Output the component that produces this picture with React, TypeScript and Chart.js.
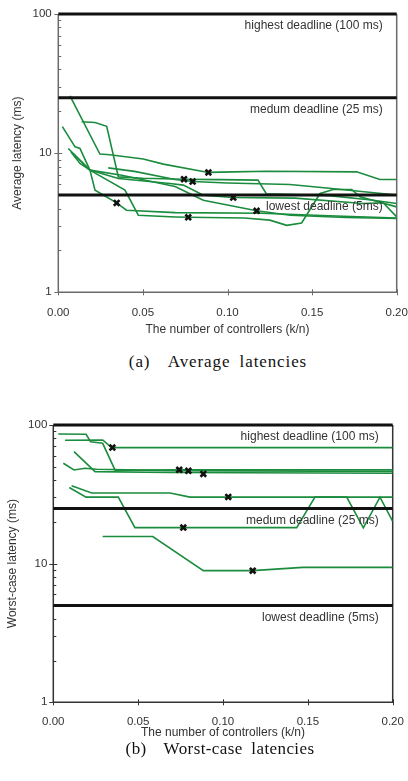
import React, { useEffect, useRef } from 'react';
import { Chart, registerables } from 'chart.js';

Chart.register(...registerables);

type Pt = [number, number];

// ---------- shared axis data ----------
const X_TICKS = [0, 0.05, 0.1, 0.15, 0.2];
const X_TICK_LABELS = ['0.00', '0.05', '0.10', '0.15', '0.20'];
const Y_TICKS = [1, 10, 100];
const Y_TICK_LABELS = ['1', '10', '100'];
const X_TITLE = 'The number of controllers (k/n)';
const DEADLINES = [100, 25, 5];
const DEADLINE_LABELS = ['highest deadline (100 ms)', 'medum deadline (25 ms)', 'lowest deadline (5ms)'];

// ---------- (a) average latencies: [k/n, ms] ----------
const AVG_RUN_1: Pt[] = [[0.0069, 25.8], [0.0246, 9.85], [0.0305, 9.74], [0.0502, 9.07], [0.0621, 8.34], [0.0887, 7.27], [0.1034, 7.34], [0.1232, 7.42], [0.1763, 7.34], [0.1901, 6.47], [0.2, 6.47]];
const AVG_RUN_2: Pt[] = [[0.0138, 16.8], [0.0217, 16.6], [0.0286, 15.6], [0.0355, 6.75], [0.05, 6.6], [0.0743, 6.5], [0.095, 6.45], [0.118, 6.4], [0.123, 5.1], [0.16, 4.95], [0.185, 4.6], [0.2, 4.35]];
const AVG_RUN_3: Pt[] = [[0.0295, 7.84], [0.045, 7.4], [0.069, 6.47], [0.0794, 6.25], [0.1, 6.1], [0.137, 5.95], [0.16, 5.6], [0.2, 5.0]];
const AVG_RUN_4: Pt[] = [[0.0024, 15.5], [0.0099, 11.1], [0.0128, 10.8], [0.0187, 7.55], [0.0217, 5.42], [0.0345, 4.39], [0.0403, 3.89], [0.069, 3.74], [0.12, 3.7], [0.16, 3.55], [0.2, 3.42]];
const AVG_RUN_5: Pt[] = [[0.0089, 9.9], [0.0187, 7.55], [0.0394, 5.42], [0.0473, 3.58], [0.069, 3.48], [0.0768, 3.46], [0.11, 3.42], [0.125, 3.3], [0.135, 3.03], [0.1438, 3.15], [0.1547, 5.13], [0.1625, 5.48], [0.1734, 5.48], [0.1783, 4.85], [0.2, 4.11]];
const AVG_RUN_6: Pt[] = [[0.0059, 10.8], [0.0187, 7.55], [0.0375, 6.94], [0.069, 5.75], [0.0857, 4.59], [0.1172, 3.85], [0.137, 3.58], [0.17, 3.45], [0.2, 3.39]];
const AVG_RUN_7: Pt[] = [[0.0075, 10.2], [0.0128, 8.43], [0.0187, 7.55], [0.0355, 6.57], [0.066, 6.05], [0.0739, 5.89], [0.0857, 4.99], [0.1034, 4.8], [0.14, 4.75], [0.18, 4.35], [0.192, 4.4], [0.2, 3.48]];
const AVG_MARKERS: Pt[] = [[0.0345, 4.39], [0.0743, 6.5], [0.0794, 6.25], [0.0887, 7.27], [0.1034, 4.8], [0.1172, 3.85], [0.0768, 3.46]];

// ---------- (b) worst-case latencies: [k/n, ms] ----------
const WORST_RUN_1: Pt[] = [[0.0029, 86.1], [0.0193, 85.7], [0.022, 75.8], [0.0291, 73.8], [0.0364, 47.2], [0.0742, 47.5], [0.2, 47.5]];
const WORST_RUN_2: Pt[] = [[0.0069, 77.6], [0.0291, 78.0], [0.0344, 68.7], [0.2, 68.7]];
const WORST_RUN_3: Pt[] = [[0.0122, 64.3], [0.0246, 46.1], [0.0688, 45.4], [0.2, 44.9]];
const WORST_RUN_4: Pt[] = [[0.0059, 53.0], [0.0122, 47.4], [0.0187, 48.8], [0.0256, 48.0], [0.0688, 46.9], [0.2, 46.2]];
const WORST_RUN_5: Pt[] = [[0.0108, 36.4], [0.0226, 32.3], [0.0688, 32.3], [0.0806, 30.2], [0.2, 30.2]];
const WORST_RUN_6: Pt[] = [[0.0094, 35.4], [0.0193, 30.2], [0.0383, 30.2], [0.0481, 18.2], [0.1434, 18.2], [0.1542, 30.2], [0.1729, 30.2], [0.1827, 18.1], [0.1925, 30.2], [0.2, 20.2]];
const WORST_RUN_7: Pt[] = [[0.0291, 15.7], [0.0586, 15.7], [0.0884, 8.9], [0.1175, 8.9], [0.147, 9.4], [0.2, 9.4]];
const WORST_MARKERS: Pt[] = [[0.0348, 68.7], [0.0742, 47.5], [0.0796, 46.7], [0.0884, 44.4], [0.1031, 30.3], [0.0766, 18.2], [0.1175, 8.9]];

const SANS = '"Liberation Sans", Arial, Helvetica, sans-serif';
const GREEN = '#1b8c3e';

interface PanelSpec {
  runs: Pt[][];
  markers: Pt[];
  yTitle: string;
  top: number;
  height: number;
  padRight: number;
  padTop: number;
  yWidth: number;
  xHeight: number;
  yTickPad: number;
  xTickPad: number;
  yTitlePad: number;
  xTitlePad: number;
  frameColor: string;
}

const decorPlugin = {
  id: 'decor',
  beforeDatasetsDraw(chart: any, _args: any, opts: any) {
    const { ctx, chartArea: a, scales } = chart;
    const y = scales.y;
    const x = scales.x;
    ctx.save();
    ctx.strokeStyle = opts.frameColor;
    ctx.lineWidth = 1.5;
    ctx.beginPath();
    ctx.moveTo(a.left, a.top);
    ctx.lineTo(a.left, a.bottom);
    ctx.lineTo(a.right, a.bottom);
    ctx.lineTo(a.right, a.top);
    ctx.stroke();
    ctx.lineWidth = 1;
    ctx.beginPath();
    for (let d = 1; d <= 100; d *= 10) {
      for (let m = 1; m <= 9; m++) {
        const v = d * m;
        if (v > 100) break;
        const py = Math.round(y.getPixelForValue(v)) + 0.5;
        const major = m === 1;
        ctx.moveTo(a.left - (major ? 4 : 0), py);
        ctx.lineTo(a.left + (major ? 4 : 3), py);
      }
    }
    X_TICKS.forEach((v) => {
      const px = Math.round(x.getPixelForValue(v)) + 0.5;
      ctx.moveTo(px, a.bottom - 3);
      ctx.lineTo(px, a.bottom + 3);
    });
    ctx.stroke();
    ctx.restore();
  },
  afterDatasetsDraw(chart: any) {
    const { ctx, chartArea: a, scales } = chart;
    const y = scales.y;
    ctx.save();
    ctx.font = `12px ${SANS}`;
    ctx.fillStyle = '#333';
    ctx.textAlign = 'right';
    ctx.textBaseline = 'middle';
    DEADLINES.forEach((v, i) => {
      ctx.fillText(DEADLINE_LABELS[i], a.right - 14, y.getPixelForValue(v) + 12);
    });
    ctx.restore();
  },
};

function Panel({ spec }: { spec: PanelSpec }) {
  const ref = useRef<HTMLCanvasElement>(null);
  useEffect(() => {
    const datasets: any[] = [];
    spec.runs.forEach((run) => {
      datasets.push({
        type: 'line',
        data: run.map(([x, y]) => ({ x, y })),
        borderColor: GREEN,
        borderWidth: 1.6,
        pointRadius: 0,
        tension: 0,
        fill: false,
        order: 3,
      });
    });
    DEADLINES.forEach((v) => {
      datasets.push({
        type: 'line',
        data: [{ x: X_TICKS[0], y: v }, { x: X_TICKS[X_TICKS.length - 1], y: v }],
        borderColor: '#111',
        borderWidth: 3,
        pointRadius: 0,
        clip: false,
        order: 2,
      });
    });
    datasets.push({
      type: 'scatter',
      data: spec.markers.map(([x, y]) => ({ x, y })),
      pointStyle: 'crossRot',
      pointRadius: 4,
      pointBorderWidth: 2.6,
      borderColor: '#111',
      backgroundColor: '#111',
      order: 0,
    });

    const chart = new Chart(ref.current as HTMLCanvasElement, {
      type: 'line',
      data: { datasets },
      plugins: [decorPlugin as any],
      options: {
        responsive: false,
        animation: false,
        devicePixelRatio: 1,
        layout: { padding: { left: 0, right: spec.padRight, top: spec.padTop, bottom: 0 } },
        plugins: {
          legend: { display: false },
          tooltip: { enabled: false },
          decor: { frameColor: spec.frameColor },
        } as any,
        scales: {
          x: {
            type: 'linear',
            min: X_TICKS[0],
            max: X_TICKS[X_TICKS.length - 1],
            afterBuildTicks: (s: any) => {
              s.ticks = X_TICKS.map((value) => ({ value }));
            },
            afterFit: (s: any) => {
              s.height = spec.xHeight;
              s.paddingLeft = 0;
              s.paddingRight = 0;
            },
            ticks: {
              callback: (_v: any, i: number) => X_TICK_LABELS[i],
              padding: spec.xTickPad,
              color: '#333',
              font: { family: SANS, size: 11.5 },
              maxRotation: 0,
              autoSkip: false,
            },
            grid: { display: false, drawTicks: false },
            border: { display: false },
            title: {
              display: true,
              text: X_TITLE,
              color: '#333',
              font: { family: SANS, size: 12 },
              padding: { top: 0, bottom: spec.xTitlePad },
            },
          },
          y: {
            type: 'logarithmic',
            min: Y_TICKS[0],
            max: Y_TICKS[Y_TICKS.length - 1],
            afterBuildTicks: (s: any) => {
              s.ticks = Y_TICKS.map((value) => ({ value }));
            },
            afterFit: (s: any) => {
              s.width = spec.yWidth;
              s.paddingTop = 0;
              s.paddingBottom = 0;
            },
            ticks: {
              callback: (_v: any, i: number) => Y_TICK_LABELS[i],
              padding: spec.yTickPad,
              color: '#333',
              font: { family: SANS, size: 11.5 },
              autoSkip: false,
            },
            grid: { display: false, drawTicks: false },
            border: { display: false },
            title: {
              display: true,
              text: spec.yTitle,
              color: '#333',
              font: { family: SANS, size: 12 },
              padding: { top: spec.yTitlePad, bottom: 0 },
            },
          },
        },
      } as any,
    });
    return () => chart.destroy();
  }, []);
  return (
    <canvas
      ref={ref}
      width={408}
      height={spec.height}
      style={{ position: 'absolute', left: 0, top: spec.top, width: 408, height: spec.height, display: 'block' }}
    />
  );
}

const PANEL_A: PanelSpec = {
  runs: [AVG_RUN_1, AVG_RUN_2, AVG_RUN_3, AVG_RUN_4, AVG_RUN_5, AVG_RUN_6, AVG_RUN_7],
  markers: AVG_MARKERS,
  yTitle: 'Average latency (ms)',
  top: 0,
  height: 345,
  padRight: 11.3,
  padTop: 14,
  yWidth: 58.3,
  xHeight: 52.7,
  yTickPad: 6.6,
  xTickPad: 14,
  yTitlePad: 10.5,
  xTitlePad: 7.8,
  frameColor: '#6b6b6b',
};

const PANEL_B: PanelSpec = {
  runs: [WORST_RUN_1, WORST_RUN_2, WORST_RUN_3, WORST_RUN_4, WORST_RUN_5, WORST_RUN_6, WORST_RUN_7],
  markers: WORST_MARKERS,
  yTitle: 'Worst-case latency (ms)',
  top: 400,
  height: 340,
  padRight: 15.3,
  padTop: 25,
  yWidth: 53.3,
  xHeight: 37.7,
  yTickPad: 6,
  xTickPad: 12.5,
  yTitlePad: 5,
  xTitlePad: 0.5,
  frameColor: '#333',
};

const captionStyle = (top: number, left: number, letter: number): React.CSSProperties => ({
  position: 'absolute',
  top,
  left,
  transform: 'translateX(-50%)',
  whiteSpace: 'pre',
  fontFamily: '"Liberation Serif", "Times New Roman", serif',
  fontSize: 17,
  lineHeight: '20px',
  color: '#111',
  wordSpacing: 4,
  letterSpacing: letter,
});

export default function App() {
  return (
    <div style={{ position: 'absolute', left: 0, top: 0, width: 408, height: 781, overflow: 'hidden', background: '#fff' }}>
      <Panel spec={PANEL_A} />
      <div style={captionStyle(352, 218, 0.9)}>{'(a)  Average latencies'}</div>
      <Panel spec={PANEL_B} />
      <div style={captionStyle(739, 220, 0.4)}>{'(b)  Worst-case latencies'}</div>
    </div>
  );
}
